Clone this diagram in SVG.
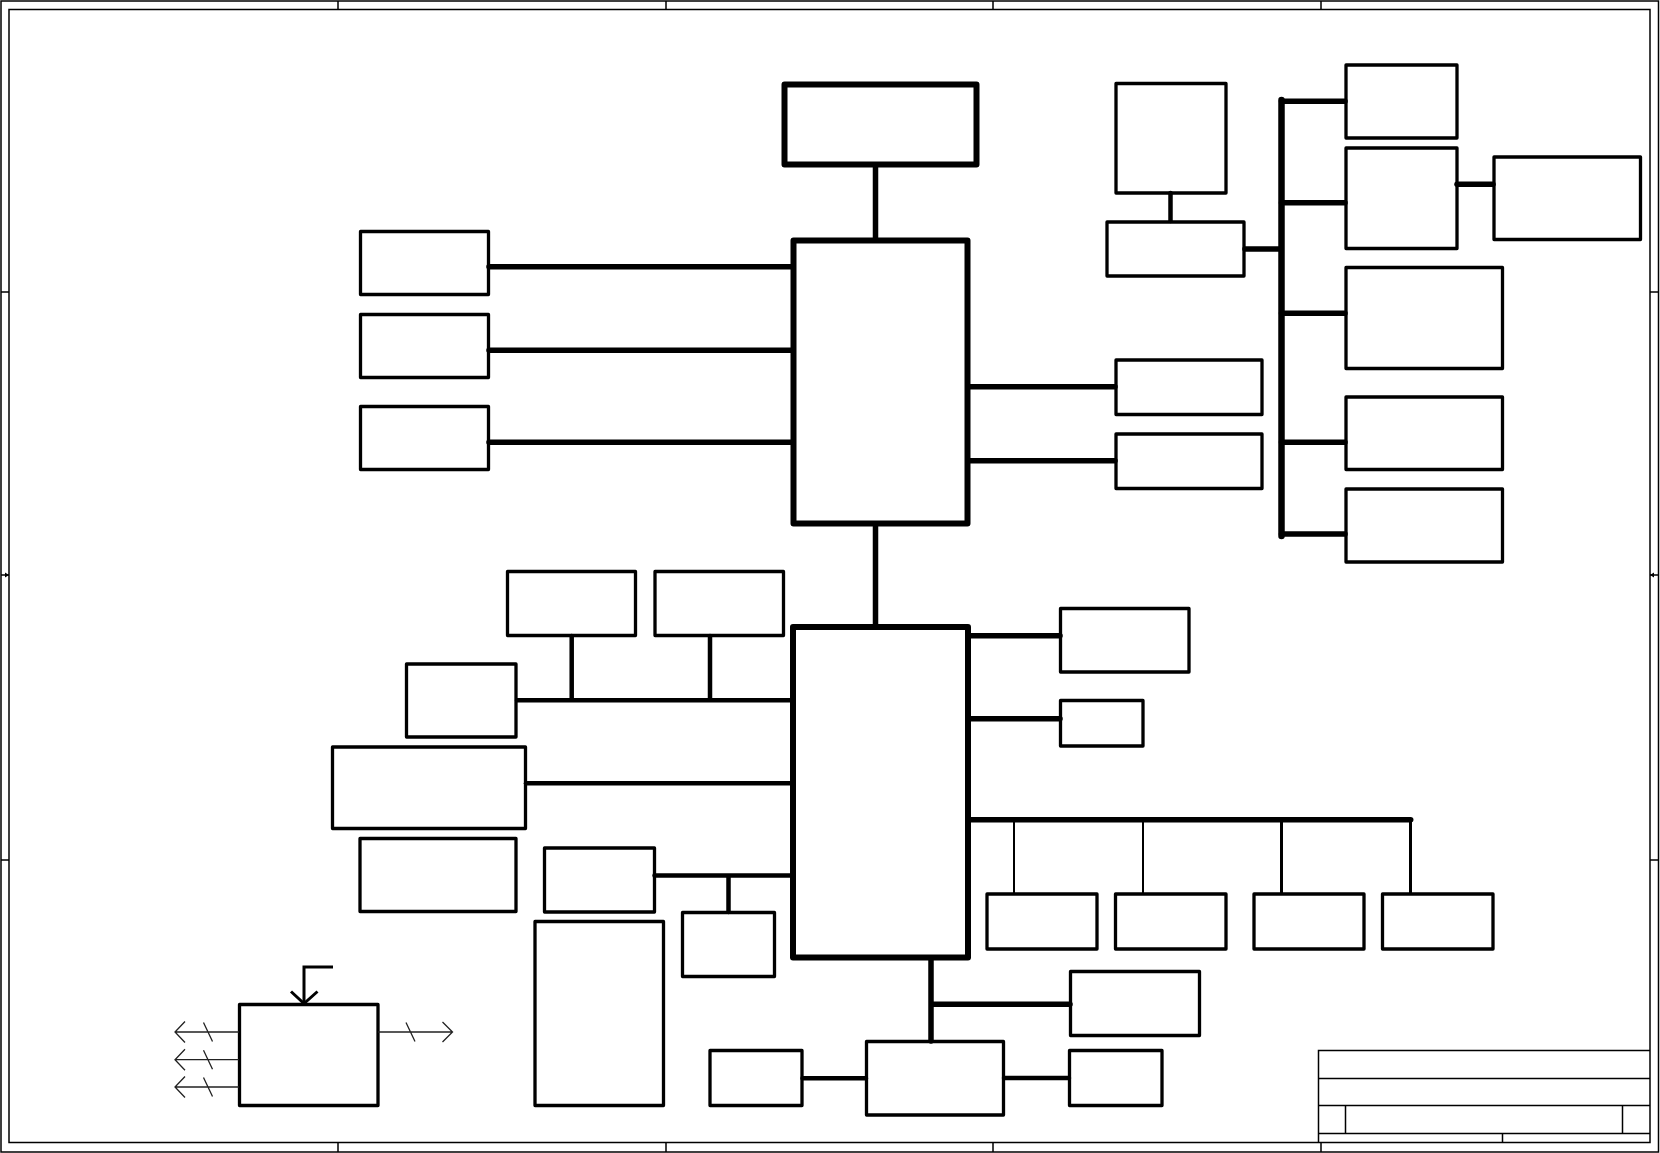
<svg xmlns="http://www.w3.org/2000/svg" width="1660" height="1153" viewBox="0 0 1660 1153">
<style>
.frame{fill:none;stroke:#000;stroke-width:1.5}
.bx{fill:#fff;stroke:#000;stroke-width:3.3;stroke-linejoin:round}
.bk{fill:#fff;stroke:#000;stroke-width:6;stroke-linejoin:round}
.c5{stroke:#000;stroke-width:5.5;stroke-linecap:round;fill:none}
.c4{stroke:#000;stroke-width:4.5;stroke-linecap:round;fill:none}
.c6{stroke:#000;stroke-width:6.5;stroke-linecap:round;fill:none}
.c2{stroke:#000;stroke-width:2;fill:none}
.c3{stroke:#000;stroke-width:3;fill:none}
.thin{stroke:#222;stroke-width:1.3;fill:none}
</style>
<rect width="1660" height="1153" fill="#fff"/>
<g id="frame">
<rect class="frame" x="1" y="1" width="1657.5" height="1151"/>
<rect class="frame" x="9" y="9.5" width="1641" height="1133"/>
<path class="frame" d="M338 1V9.5M666 1V9.5M993 1V9.5M1321 1V9.5M338 1142.5V1152M666 1142.5V1152M993 1142.5V1152M1321 1142.5V1152M1 292H9M1 860H9M1650 292H1658.5M1650 860H1658.5"/>
<path class="frame" d="M1 575H9M1650 575H1658.5"/>
<path d="M9 575l-4-2.5v5z M1650 575l4-2.5v5z" fill="#000"/>
</g>
<g id="titleblock">
<path class="frame" d="M1318.5 1142.5V1050.5H1650M1318.5 1078.5H1650M1318.5 1105.5H1650M1318.5 1133.5H1650M1345.5 1105.5V1133.5M1622.5 1105.5V1133.5M1502.5 1133.5V1142.5"/>
</g>
<g id="n-top"><rect class="bk" x="784.5" y="84.5" width="192" height="80"/></g>
<g id="n-cpu"><rect class="bk" x="793.5" y="240.5" width="174" height="283"/></g>
<g id="n-l1"><rect class="bx" x="360.5" y="231.5" width="128" height="63"/></g>
<g id="n-l2"><rect class="bx" x="360.5" y="314.5" width="128" height="63"/></g>
<g id="n-l3"><rect class="bx" x="360.5" y="406.5" width="128" height="63"/></g>
<g id="n-r1"><rect class="bx" x="1116" y="360" width="146" height="54.5"/></g>
<g id="n-r2"><rect class="bx" x="1116" y="434" width="146" height="54.5"/></g>
<g id="n-tr1"><rect class="bx" x="1116" y="83.5" width="110" height="109.5"/></g>
<g id="n-tr2"><rect class="bx" x="1107" y="222" width="137" height="54"/></g>
<g id="n-ba"><rect class="bx" x="1346" y="65" width="111" height="73"/></g>
<g id="n-bb"><rect class="bx" x="1346" y="148" width="111" height="100.5"/></g>
<g id="n-bbx"><rect class="bx" x="1494" y="157" width="146.5" height="82.5"/></g>
<g id="n-bc"><rect class="bx" x="1346" y="267.5" width="156.5" height="101"/></g>
<g id="n-bd"><rect class="bx" x="1346" y="397" width="156.5" height="72.5"/></g>
<g id="n-be"><rect class="bx" x="1346" y="489" width="156.5" height="73"/></g>
<g id="n-pch"><rect class="bk" x="793" y="627" width="175" height="330.5"/></g>
<g id="n-p1"><rect class="bx" x="507.5" y="571.5" width="128" height="64"/></g>
<g id="n-p2"><rect class="bx" x="655" y="571.5" width="128.5" height="64"/></g>
<g id="n-p3"><rect class="bx" x="406.5" y="664" width="109.5" height="73"/></g>
<g id="n-p4"><rect class="bx" x="332.5" y="747" width="193" height="81.5"/></g>
<g id="n-p5"><rect class="bx" x="360" y="838.5" width="156" height="73"/></g>
<g id="n-p6"><rect class="bx" x="544.5" y="848" width="110" height="64"/></g>
<g id="n-p7"><rect class="bx" x="682.5" y="912.5" width="92" height="64"/></g>
<g id="n-p8"><rect class="bx" x="535" y="921.5" width="128.5" height="184"/></g>
<g id="n-q1"><rect class="bx" x="1060.5" y="608.5" width="128.5" height="63.5"/></g>
<g id="n-q2"><rect class="bx" x="1060.5" y="700.5" width="82.5" height="45.5"/></g>
<g id="n-s1"><rect class="bx" x="987" y="894" width="110" height="55"/></g>
<g id="n-s2"><rect class="bx" x="1115.5" y="894" width="110.5" height="55"/></g>
<g id="n-s3"><rect class="bx" x="1254" y="894" width="110" height="55"/></g>
<g id="n-s4"><rect class="bx" x="1382.5" y="894" width="110.5" height="55"/></g>
<g id="n-ec"><rect class="bx" x="866.5" y="1041.5" width="137" height="73.5"/></g>
<g id="n-e1"><rect class="bx" x="710" y="1050.5" width="92" height="55"/></g>
<g id="n-e2"><rect class="bx" x="1070.5" y="971.5" width="129" height="64"/></g>
<g id="n-e3"><rect class="bx" x="1069.5" y="1050.5" width="92.5" height="55"/></g>
<g id="n-pwr">
<rect class="bx" x="239.5" y="1004.5" width="138.5" height="101"/>
<path class="c3" d="M304 1003V967H333"/>
<path class="c3" d="M291 991.5L304 1003.5L317.5 991.5"/>
<path class="thin" d="M175 1032H239M185 1021.5L175 1032L185 1042.5M203.5 1022.5L212.5 1041.5"/>
<path class="thin" d="M175 1059.7H239M185 1049.2L175 1059.7L185 1070.2M203.5 1050.2L212.5 1069.2"/>
<path class="thin" d="M175 1087H239M185 1076.5L175 1087L185 1097.5M203.5 1077.5L212.5 1096.5"/>
<path class="thin" d="M378 1032H452.5M442.5 1022L452.5 1032L442.5 1042M406 1022.5L415 1041.5"/>
</g>
<g id="connectors">
<path class="c5" d="M875.5 167V240"/>
<path class="c5" d="M489 266.7H791M489 350.3H791M489 442.3H791"/>
<path class="c5" d="M970 386.7H1115M970 460.7H1115"/>
<path class="c4" d="M1170.5 193V221"/>
<path class="c5" d="M1245 249H1281"/>
<path class="c6" d="M1281.5 100V536"/>
<path class="c5" d="M1281.5 101.3H1345M1281.5 202.7H1345M1281.5 313.3H1345M1281.5 442.3H1345M1281.5 534H1345"/>
<path class="c5" d="M1457 184.3H1493"/>
<path class="c5" d="M875.5 525V626"/>
<path class="c4" d="M517 700.3H791M571.7 636V700.3M710 636V700.3"/>
<path class="c4" d="M526 783.3H791"/>
<path class="c4" d="M654.5 875.5H791M728.5 875.5V912"/>
<path class="c5" d="M970 635.7H1060M970 718.7H1060"/>
<path class="c5" d="M970 819.7H1410.7"/>
<path class="c2" d="M1014 820V893M1143 820V893"/>
<path class="c3" d="M1281.5 820V893M1410.5 820V893"/>
<path class="c5" d="M931 958V1041M931 1004.2H1070"/>
<path class="c4" d="M802.5 1078.3H866M1004 1078H1069"/>
</g>
</svg>
